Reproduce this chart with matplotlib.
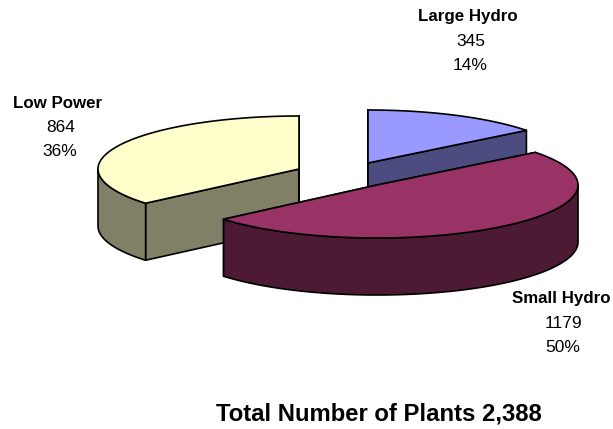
import numpy as np
import matplotlib
matplotlib.use("Agg")
import matplotlib.pyplot as plt
from matplotlib.patches import Polygon

categories = ["Large Hydro", "Small Hydro", "Low Power"]
plants = [345, 1179, 864]
percents = ["14%", "50%", "36%"]
title = "Total Number of Plants 2,388"
top_colors = ["#9999FF", "#993366", "#FFFFCC"]
side_colors = ["#4C4C80", "#4C1A33", "#808066"]
centers = [(368, 163), (377, 185), (299, 169)]
label_pos = [(468, 15), (561, 298), (58, 102)]
RX, RY, DEPTH = 201, 53, 57

fig = plt.figure(figsize=(6.13, 4.29), dpi=100)
ax = fig.add_axes([0, 0, 1, 1])
ax.set_xlim(0, 613); ax.set_ylim(429, 0); ax.axis("off")
plt.rcParams["font.family"] = "Liberation Sans"

def arc(c, a0, a1, dy=0, n=200):
    t = np.linspace(a0, a1, n)
    return np.column_stack([c[0] + RX*np.sin(t), c[1] - RY*np.cos(t) + dy])

total = sum(plants)
edges = np.concatenate([[0], np.cumsum(plants)]) / total * 2*np.pi
kw = dict(edgecolor="black", linewidth=1.2, joinstyle="round")

def draw(i, z):
    c, a0, a1 = centers[i], edges[i], edges[i+1]
    apex = np.array(c, float)
    down = np.array([0, DEPTH])
    for a in (a0, a1):
        p = arc(c, a, a, n=1)[0]
        ax.add_patch(Polygon([apex, p, p+down, apex+down], closed=True, facecolor=side_colors[i], zorder=z, **kw))
    lo, hi = max(a0, np.pi/2), min(a1, 3*np.pi/2)
    if hi > lo:
        top = arc(c, lo, hi)
        ax.add_patch(Polygon(np.vstack([top, arc(c, lo, hi, DEPTH)[::-1]]), closed=True, facecolor=side_colors[i], zorder=z, **kw))
    ax.add_patch(Polygon(np.vstack([[apex], arc(c, a0, a1)]), closed=True, facecolor=top_colors[i], zorder=z+0.5, **kw))

draw(0, 1)
draw(2, 2)
draw(1, 3)

for name, v, pct, (x, y) in zip(categories, plants, percents, label_pos):
    ax.text(x, y + 1, name, ha="center", va="center", fontsize=12.2, fontweight="bold", color="black")
    ax.text(x+2.5, y+26, str(v), ha="center", va="center", fontsize=12.5, color="black")
    ax.text(x+2, y+50, pct, ha="center", va="center", fontsize=12.5, color="black")
ax.text(379, 414, title, ha="center", va="center", fontsize=17.2, fontweight="bold", color="black")
fig.savefig("out.png", dpi=100, facecolor="white")
